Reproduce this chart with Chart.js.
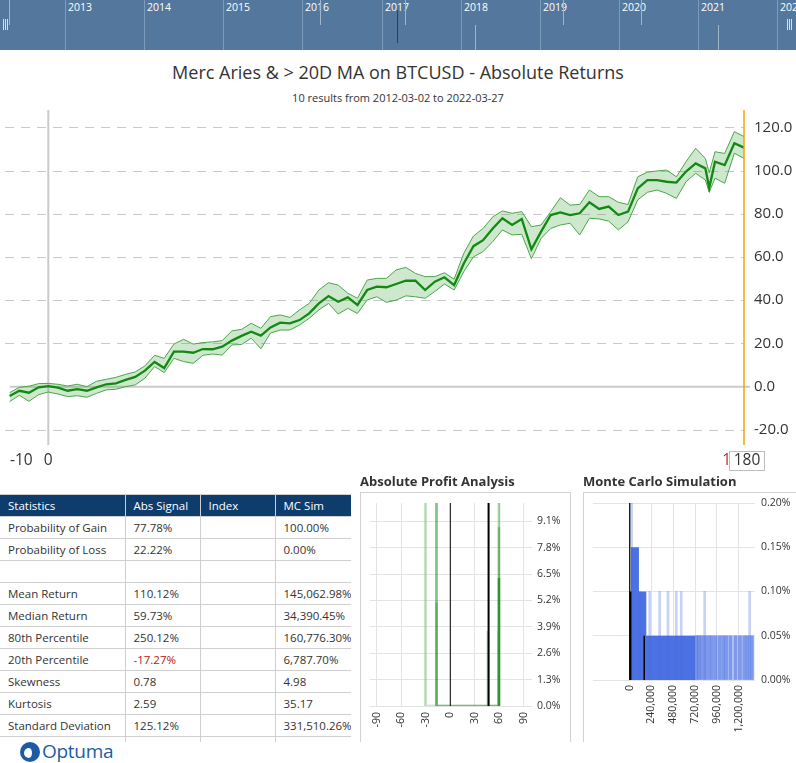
<!DOCTYPE html>
<html>
<head>
<meta charset="utf-8">
<title>Merc Aries & > 20D MA on BTCUSD - Absolute Returns</title>
<script src="https://cdn.jsdelivr.net/npm/chart.js@4.4.1/dist/chart.umd.min.js"></script>
<style>
  html, body { margin: 0; padding: 0; background: #fff; }
  body { width: 796px; height: 763px; position: relative; overflow: hidden; font-family: "Open Sans", sans-serif; color: #333; }
  .abs { position: absolute; }
  #nav { left: 0; top: 0; width: 796px; height: 50px; background: #54789d; overflow: hidden; }
  .nav-sep { position: absolute; top: 0; width: 1px; height: 50px; background: #7d9bba; }
  .nav-year { position: absolute; top: 0; font-size: 10.5px; line-height: 15px; color: #fff; }
  .nav-tick { position: absolute; width: 1px; background: #9fb6cd; }
  .nav-grip { position: absolute; top: 19px; width: 5px; height: 11px;
              background: repeating-linear-gradient(90deg, #ddd 0 1px, transparent 1px 2px); }
  #title { left: 0; top: 59px; width: 796px; text-align: center; font-size: 18px; line-height: 26px; color: #333; }
  #subtitle { left: 0; top: 90px; width: 796px; text-align: center; font-size: 11px; line-height: 16px; color: #333; }
  #stats { left: 0; top: 494px; width: 351px; height: 248px; overflow: hidden; }
  #stats table { border-collapse: collapse; table-layout: fixed; width: 351px; font-size: 11.5px; }
  #stats th, #stats td { height: 21px; padding: 0 0 0 8px; border: 1px solid #cfcfcf; text-align: left;
                         font-weight: normal; white-space: nowrap; overflow: hidden; color: #333; }
  #stats th { background: #0e3c6c; color: #fff; border-color: #cfcfcf; }
  #stats tr:first-child th { border-top: none; }
  #stats th:first-child, #stats td:first-child { border-left: none; }
  .neg { color: #b01c1c !important; }
  .panel-title { font-size: 13px; font-weight: bold; line-height: 18px; color: #333; top: 472px; }
  .panel { top: 492px; width: 211px; height: 250px; border: 1px solid #d2d2d2; border-bottom: none; box-sizing: border-box; }
  #logo { left: 20px; top: 741px; height: 22px; }
  .logo-mark { position: absolute; left: 0; top: 1px; width: 20px; height: 20px; border-radius: 50%; background: #1d5ba4; }
  .logo-mark::after { content: ""; position: absolute; left: 4px; top: 6px; width: 10px; height: 10px; border-radius: 50%;
                      background: #fff; border-right: 2px solid #1d5ba4; box-sizing: border-box; }
  .logo-text { position: absolute; left: 22px; top: -3px; font-size: 19px; color: #1d5ba4; letter-spacing: -0.3px; }
  canvas { position: absolute; }
</style>
</head>
<body>

<div id="nav" class="abs"></div>
<div id="title" class="abs">Merc Aries &amp; &gt; 20D MA on BTCUSD - Absolute Returns</div>
<div id="subtitle" class="abs">10 results from 2012-03-02 to 2022-03-27</div>

<canvas id="mainChart" width="796" height="370" style="left:0; top:105px; width:796px; height:370px;"></canvas>

<div id="stats" class="abs"><table id="statsTable"></table></div>

<div class="abs panel-title" style="left:360px;">Absolute Profit Analysis</div>
<div class="abs panel" style="left:360px;"></div>
<canvas id="profitChart" width="210" height="247" style="left:362px; top:494px; width:210px; height:247px;"></canvas>

<div class="abs panel-title" style="left:583px;">Monte Carlo Simulation</div>
<div class="abs panel" style="left:583px; width:213px; border-right:none;"></div>
<canvas id="mcChart" width="210" height="247" style="left:584px; top:494px; width:210px; height:247px;"></canvas>

<div id="logo" class="abs"><div class="logo-mark"></div><span class="logo-text">Optuma</span></div>

<script>
// ---- timeline navigator ----
const navYears = ['2013', '2014', '2015', '2016', '2017', '2018', '2019', '2020', '2021', '2022'];
const navYearX = [64.7, 143.7, 222.7, 301.7, 381.7, 460.7, 539.7, 618.7, 697.7, 776.7];

// ---- main chart: absolute returns (mean with high / low band) ----
const retX = [-10, -7.5, -5, -2.5, 0, 2.5, 5, 7.5, 10, 12.5, 15, 17.5, 20, 22.5, 25, 27.5, 30, 32.5, 35, 37.5,
              40, 42.5, 45, 47.5, 50, 52.5, 55, 57.5, 60, 62.5, 65, 67.5, 70, 72.5, 75, 77.5, 80, 82.5, 85, 87.5,
              90, 92.5, 95, 97.5, 100, 102.5, 105, 107.5, 110, 112.5, 115, 117.5, 120, 122.5, 125, 127.5, 130, 132.5,
              135, 137.5, 140, 142.5, 145, 147.5, 150, 152.5, 155, 157.5, 160, 162.5, 165, 167.5, 170, 171, 172.5,
              175, 177.5, 180];
const retMean = [-4.3, -1.9, -2.8, -0.3, 0.2, -0.5, -1.9, -1.2, -1.9, -0.3, 1.1, 1.5, 3.1, 4.5, 7.4, 11.4, 8.6, 16.2, 16.2, 15.7,
                 17.4, 17.3, 18.5, 21.3, 23.5, 25.4, 23.6, 27.4, 29.6, 29.3, 30.8, 33.9, 38.5, 41.9, 39.3, 41.3, 37.8, 44.7, 46.3, 46,
                 47.5, 49, 49, 44.7, 48.6, 50.6, 47, 57, 65, 67.8, 73.2, 77.9, 74.8, 77.6, 63.5, 71.7, 79.4, 80.6,
                 79.4, 80.2, 85.3, 82.2, 83.3, 79.4, 81, 91.7, 95.6, 95.6, 94.8, 94.4, 99.5, 103.3, 101, 92, 104.1,
                 102.5, 112.6, 110.6];
const retUpper = [-2.8, -0.3, 0.2, 1.4, 1.5, 1.1, 0.3, 1.1, 0, 2.5, 3.4, 4.3, 5.7, 6.8, 9.6, 14.5, 13.1, 19.7, 21.9, 19.7,
                  20.4, 20.7, 21.3, 25.8, 26.5, 29.3, 27, 32.4, 33.2, 32, 35.5, 38.5, 44.7, 48.1, 47, 43.2, 40.9, 49.3, 50.1, 50.1,
                  54, 55.2, 52.4, 50.9, 50.9, 52.7, 49.7, 61.7, 69.7, 73.2, 78.6, 81.3, 80.2, 81, 74, 74.8, 81, 87.4,
                  84, 84.3, 91, 87.9, 87.9, 85.3, 84.3, 97.1, 99.2, 99.8, 100.2, 97.1, 104.1, 110.3, 105.6, 99, 108.7,
                  107.9, 118, 115.7];
const retLower = [-6.9, -4, -6.8, -3.7, -2.5, -3.4, -4.6, -4.2, -4.9, -3.1, -1.5, -1.2, 0, 0.8, 3.9, 9.3, 6.5, 13.1, 11.6, 10.8,
                  14.5, 15.1, 14.6, 19.3, 19.5, 22.4, 17.5, 24.8, 26.2, 26.2, 28.5, 31.6, 35.5, 38.5, 33.6, 36.2, 33.9, 40.1, 41.6, 39,
                  40, 42, 41.6, 40.9, 44, 47.5, 44.7, 53.2, 60, 62.5, 67.1, 72.5, 70.2, 70.5, 59.2, 68.6, 73.2, 74.8,
                  75.6, 70.2, 77.9, 77.6, 76.6, 72.5, 76.3, 86.4, 89.9, 91, 89.4, 87.1, 94.8, 98.7, 95.6, 90, 96.4,
                  94.1, 108, 105.6];
const mainYTicks = [-20, 0, 20, 40, 60, 80, 100, 120];
const mainXTicks = [-10, 0];
const mainXMarker = 180;

// ---- statistics table ----
const statHeaders = ['Statistics', 'Abs Signal', 'Index', 'MC Sim'];
const statNames = ['Probability of Gain', 'Probability of Loss', '', 'Mean Return', 'Median Return', '80th Percentile',
                   '20th Percentile', 'Skewness', 'Kurtosis', 'Standard Deviation'];
const statAbs = ['77.78%', '22.22%', '', '110.12%', '59.73%', '250.12%', '-17.27%', '0.78', '2.59', '125.12%'];
const statIndex = ['', '', '', '', '', '', '', '', '', ''];
const statMc = ['100.00%', '0.00%', '', '145,062.98%', '34,390.45%', '160,776.30%', '6,787.70%', '4.98', '35.17', '331,510.26%'];

// ---- absolute profit analysis (frequency spikes, % of results) ----
const profitXTicks = [-90, -60, -30, 0, 30, 60, 90];
const profitYTicks = [0, 1.3, 2.6, 3.9, 5.2, 6.5, 7.8, 9.1];
const profitLightX = [-30.5, -30.5, -17, -17];
const profitLightY = [14, 0, 0, 14];
const profitMainX = [-17, -17, 59.5, 59.5];
const profitMainY = [14, 0, 0, 14];
const profitLowX = [-17, -17, 59.5, 59.5, null, 46, 46, null, 58.8, 58.8];
const profitLowY = [5.1, 0, 0, 8.8, null, 3.7, 0, null, 3.7, 0];
const profitPeakX = [59.5, 59.5];
const profitPeakY = [6.3, 0];
const profitZeroX = [0, 0];
const profitZeroY = [14, 0];
const profitMarkX = [46.8, 46.8];
const profitMarkY = [14, 0];

// ---- monte carlo simulation (distribution of final return %, probability %) ----
const mcXTicks = [0, 240000, 480000, 720000, 960000, 1200000];
const mcYTicks = [0, 0.05, 0.1, 0.15, 0.2];
const mcDenseX = [11000, 102000, 183000, 720000];
const mcDenseY = [0.15, 0.10, 0.05, 0];
const mcLightX = [720000, 1376000];
const mcLightY = [0.05, 0];
const mcMidX = [735000, 760000, 790000, 830000, 870000, 905000, 945000, 990000, 1030000, 1065000, 1110000,
                1165000, 1215000, 1262000, 1300000, 1345000];
const mcMidY = [0.05, 0.05, 0.05, 0.05, 0.05, 0.05, 0.05, 0.05, 0.05, 0.05, 0.05, 0.05, 0.05, 0.05, 0.05, 0.05];
const mcTallX = [22000, 112000, 220000, 330000, 422000, 513000, 568000, 826000, 1321000];
const mcTallY = [0.20, 0.10, 0.10, 0.10, 0.10, 0.10, 0.10, 0.10, 0.10];
const mcZeroX = [0, 0];
const mcZeroY = [0.2, 0];
const mcMedianX = [8000, 8000];
const mcMedianY = [0.10, 0];
const mcMeanX = [160000, 160000];
const mcMeanY = [0.05, 0];

// ---------------------------------------------------------------

const nav = document.getElementById('nav');
navYears.forEach((yr, i) => {
    const sep = document.createElement('div');
    sep.className = 'nav-sep';
    sep.style.left = Math.round(navYearX[i]) + 'px';
    nav.appendChild(sep);
    const lbl = document.createElement('div');
    lbl.className = 'nav-year';
    lbl.style.left = (Math.round(navYearX[i]) + 3) + 'px';
    lbl.textContent = yr;
    nav.appendChild(lbl);
});
// small scrubber marks on the navigator
[[9, 0, 25], [320, 0, 25], [405, 0, 25], [475, 25, 25], [563, 0, 25], [641, 0, 25], [718, 25, 25]].forEach(([x, t, h]) => {
    const d = document.createElement('div');
    d.className = 'nav-tick';
    d.style.cssText = `left:${x}px; top:${t}px; height:${h}px;`;
    nav.appendChild(d);
});
const dark = document.createElement('div');
dark.className = 'nav-tick';
dark.style.cssText = 'left:397px; top:10px; height:33px; background:#2c3f55;';
nav.appendChild(dark);
[3, 787].forEach(x => {
    const g = document.createElement('div');
    g.className = 'nav-grip';
    g.style.left = x + 'px';
    nav.appendChild(g);
});

// stats table
const table = document.getElementById('statsTable');
table.innerHTML = `<colgroup><col style="width:125px"><col style="width:75px"><col style="width:75px"><col style="width:76px"></colgroup>`;
const head = document.createElement('tr');
statHeaders.forEach(h => { const th = document.createElement('th'); th.textContent = h; head.appendChild(th); });
table.appendChild(head);
statNames.forEach((name, i) => {
    const tr = document.createElement('tr');
    [name, statAbs[i], statIndex[i], statMc[i]].forEach(v => {
        const td = document.createElement('td');
        td.textContent = v;
        if (v.startsWith('-')) td.className = 'neg';
        tr.appendChild(td);
    });
    table.appendChild(tr);
});
const tail = document.createElement('tr');
for (let i = 0; i < 4; i++) tail.appendChild(document.createElement('td'));
table.appendChild(tail);

// ---------------------------------------------------------------
Chart.defaults.font.family = '"Open Sans", sans-serif';
Chart.defaults.color = '#333';

const pts = (xs, ys) => xs.map((x, i) => ({ x: x === null ? xs[i - 1] : x, y: ys[i] }));
const fixTicks = (vals) => (scale) => { scale.ticks = vals.map(v => ({ value: v })); };
const noPad = (s) => { s.paddingTop = 0; s.paddingBottom = 0; };

const mainDecor = {
    id: 'mainDecor',
    beforeDatasetsDraw(chart) {
        const { ctx, chartArea: a, scales: { x, y } } = chart;
        ctx.save();
        ctx.strokeStyle = '#c9c9c9';
        ctx.lineWidth = 1;
        ctx.setLineDash([9, 7]);
        mainYTicks.forEach(v => {
            if (v === 0) return;
            const py = Math.round(y.getPixelForValue(v)) + 0.5;
            ctx.beginPath(); ctx.moveTo(a.left, py); ctx.lineTo(a.right, py); ctx.stroke();
        });
        ctx.setLineDash([]);
        ctx.lineWidth = 2;
        ctx.strokeStyle = '#cacaca';
        const y0 = y.getPixelForValue(0);
        ctx.beginPath(); ctx.moveTo(x.getPixelForValue(-10), y0); ctx.lineTo(a.right + 6, y0); ctx.stroke();
        const x0 = x.getPixelForValue(0);
        ctx.beginPath(); ctx.moveTo(x0, a.top); ctx.lineTo(x0, a.bottom); ctx.stroke();
        ctx.restore();
    },
    afterDatasetsDraw(chart) {
        const { ctx, chartArea: a, scales: { x } } = chart;
        const px = x.getPixelForValue(mainXMarker);
        ctx.save();
        ctx.strokeStyle = '#f5a400';
        ctx.lineWidth = 1.5;
        ctx.beginPath(); ctx.moveTo(px, a.top); ctx.lineTo(px, a.bottom); ctx.stroke();
        ctx.restore();
    },
    afterDraw(chart) {
        const { ctx, chartArea: a, scales: { x } } = chart;
        const ly = a.bottom + 16;
        ctx.save();
        ctx.font = '15.5px "Open Sans", sans-serif';
        ctx.fillStyle = '#333';
        ctx.textBaseline = 'middle';
        mainXTicks.forEach(v => {
            const px = x.getPixelForValue(v);
            const w = ctx.measureText(String(v)).width;
            ctx.textAlign = 'center';
            ctx.fillText(String(v), Math.max(px, a.left + 5 + w / 2), ly);
        });
        // current bar marker
        const mx = x.getPixelForValue(mainXMarker) + 3;
        ctx.fillStyle = '#c0282a';
        ctx.textAlign = 'right';
        ctx.fillText('1', mx - 16, ly);
        ctx.fillStyle = '#fff';
        ctx.fillRect(mx - 17.5, ly - 9.5, 35, 19);
        ctx.strokeStyle = '#bdbdbd';
        ctx.lineWidth = 1;
        ctx.strokeRect(mx - 17.5, ly - 9.5, 35, 19);
        ctx.fillStyle = '#333';
        ctx.textAlign = 'center';
        ctx.fillText(String(mainXMarker), mx, ly);
        ctx.restore();
    }
};

new Chart(document.getElementById('mainChart'), {
    type: 'line',
    data: {
        datasets: [
            { label: 'Mean', data: pts(retX, retMean), borderColor: '#138913', borderWidth: 2.3,
              pointRadius: 0, fill: false, tension: 0 },
            { label: 'High', data: pts(retX, retUpper), borderColor: '#4ca54c', borderWidth: 1,
              pointRadius: 0, fill: '+1', backgroundColor: 'rgba(70,170,70,0.27)', tension: 0 },
            { label: 'Low', data: pts(retX, retLower), borderColor: '#4ca54c', borderWidth: 1,
              pointRadius: 0, fill: false, tension: 0 }
        ]
    },
    options: {
        responsive: false,
        animation: false,
        layout: { padding: { left: 5, top: 5, right: 0, bottom: 0 } },
        plugins: { legend: { display: false }, tooltip: { enabled: false } },
        scales: {
            x: {
                type: 'linear', min: -11.2, max: 180,
                grid: { display: false }, border: { display: false }, ticks: { display: false },
                afterFit(s) { s.height = 30; s.paddingLeft = 0; s.paddingRight = 0; }
            },
            y: {
                position: 'right', min: -27, max: 128,
                grid: { display: false, drawTicks: false }, border: { display: false },
                afterBuildTicks: fixTicks(mainYTicks),
                ticks: { padding: 10, color: '#333', font: { size: 15 }, callback: v => Number(v).toFixed(1) },
                afterFit(s) { s.width = 52; noPad(s); }
            }
        }
    },
    plugins: [mainDecor]
});

const seg = (xs, ys, color, width) => ({
    data: pts(xs, ys), borderColor: color, borderWidth: width, pointRadius: 0,
    fill: false, spanGaps: false, tension: 0
});

const smallGrid = { color: '#e3e3e3', lineWidth: 1, drawTicks: false };

new Chart(document.getElementById('profitChart'), {
    type: 'line',
    data: {
        datasets: [
            seg(profitMarkX, profitMarkY, '#000', 2),
            seg(profitZeroX, profitZeroY, 'rgba(40,40,40,0.75)', 1),
            seg(profitPeakX, profitPeakY, 'rgba(0,128,0,0.6)', 2.5),
            seg(profitLowX, profitLowY, 'rgba(0,128,0,0.3)', 2.5),
            seg(profitMainX, profitMainY, 'rgba(0,128,0,0.35)', 2.5),
            seg(profitLightX, profitLightY, 'rgba(0,128,0,0.2)', 3)
        ]
    },
    options: {
        responsive: false,
        animation: false,
        layout: { padding: { left: 8, top: 9, right: 0, bottom: 0 } },
        plugins: { legend: { display: false }, tooltip: { enabled: false } },
        scales: {
            x: {
                type: 'linear', min: -98.5, max: 100,
                grid: smallGrid, border: { display: false },
                afterBuildTicks: fixTicks(profitXTicks),
                ticks: { autoSkip: false, minRotation: 90, maxRotation: 90, padding: 6, font: { size: 10.5 }, color: '#333' },
                afterFit(s) { s.height = 35; s.paddingLeft = 0; s.paddingRight = 0; }
            },
            y: {
                position: 'right', min: 0, max: 10,
                grid: smallGrid, border: { display: false },
                afterBuildTicks: fixTicks(profitYTicks),
                ticks: { padding: 5, font: { size: 10.5 }, color: '#333', callback: v => Number(v).toFixed(1) + '%' },
                afterFit(s) { s.width = 40; noPad(s); }
            }
        }
    }
});

new Chart(document.getElementById('mcChart'), {
    type: 'line',
    data: {
        datasets: [
            seg(mcMeanX, mcMeanY, '#000', 1.5),
            seg(mcMedianX, mcMedianY, '#000', 2),
            seg(mcZeroX, mcZeroY, 'rgba(20,20,20,0.8)', 1),
            { type: 'bar', data: pts(mcTallX, mcTallY), backgroundColor: 'rgba(65,105,225,0.3)',
              barThickness: 2, grouped: false },
            { type: 'bar', data: pts(mcMidX, mcMidY), backgroundColor: 'rgba(65,105,225,0.55)',
              barThickness: 3, grouped: false },
            { data: pts(mcLightX, mcLightY), stepped: 'before', borderWidth: 0, pointRadius: 0,
              fill: 'origin', backgroundColor: 'rgba(65,105,225,0.3)' },
            { data: pts(mcDenseX, mcDenseY), stepped: 'before', borderWidth: 0, pointRadius: 0,
              fill: 'origin', backgroundColor: 'rgba(65,105,225,0.95)' }
        ]
    },
    options: {
        responsive: false,
        animation: false,
        layout: { padding: { left: 9, top: 9, right: 0, bottom: 0 } },
        plugins: { legend: { display: false }, tooltip: { enabled: false } },
        scales: {
            x: {
                type: 'linear', min: -404000, max: 1380000, offset: false,
                grid: { ...smallGrid, offset: false }, border: { display: false },
                afterBuildTicks: fixTicks(mcXTicks),
                ticks: { autoSkip: false, minRotation: 90, maxRotation: 90, padding: 5, font: { size: 10.5 }, color: '#333',
                         callback: v => Number(v).toLocaleString('en-US') },
                afterFit(s) { s.height = 61; s.paddingLeft = 0; s.paddingRight = 0; }
            },
            y: {
                position: 'right', min: 0, max: 0.2,
                grid: smallGrid, border: { display: false },
                afterBuildTicks: fixTicks(mcYTicks),
                ticks: { padding: 6, font: { size: 10.5 }, color: '#333', callback: v => Number(v).toFixed(2) + '%' },
                afterFit(s) { s.width = 39; noPad(s); }
            }
        }
    }
});
</script>
</body>
</html>
